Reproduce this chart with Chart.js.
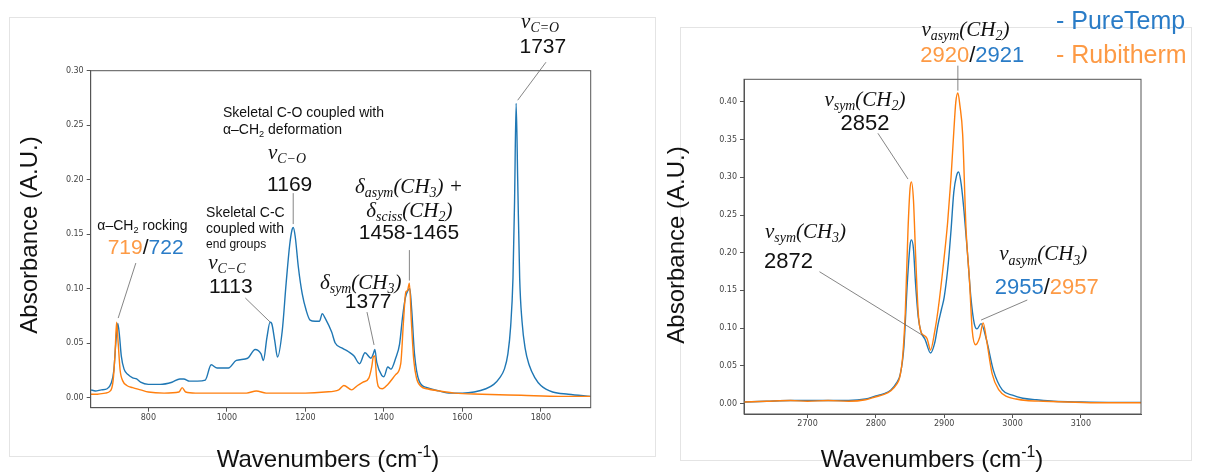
<!DOCTYPE html>
<html>
<head>
<meta charset="utf-8">
<script src="https://cdn.jsdelivr.net/npm/chart.js@4.4.1/dist/chart.umd.min.js"></script>
<style>
  html, body { margin: 0; padding: 0; background: #fff; }
  #wrap { position: relative; width: 1205px; height: 472px; overflow: hidden; }
  canvas { position: absolute; top: 0; }
  #left { left: 0; }
  #right { left: 660px; }
</style>
</head>
<body>
<div id="wrap">
  <canvas id="left" width="660" height="472"></canvas>
  <canvas id="right" width="545" height="472"></canvas>
</div>
<script>
// --- fingerprint region (left panel) ---
const leftWavenumbersPure = [653, 665, 680, 695, 705, 712, 717, 722, 726, 731, 738, 748, 760, 770, 780, 800, 830, 860, 880, 890, 905, 925, 945, 960, 975, 990, 1004, 1024, 1053, 1072, 1087, 1093, 1102, 1110, 1114, 1122, 1129, 1141, 1151, 1160, 1166, 1169, 1174, 1182, 1192, 1202, 1212, 1225, 1236, 1243, 1250, 1267, 1276, 1295, 1310, 1324, 1338, 1352, 1367, 1373, 1377, 1382, 1395, 1400, 1410, 1418, 1430, 1440, 1448, 1455, 1461, 1466, 1471, 1478, 1490, 1510, 1540, 1570, 1600, 1630, 1660, 1680, 1695, 1707, 1716, 1723, 1729, 1733, 1737, 1741, 1746, 1752, 1760, 1770, 1785, 1800, 1830, 1870, 1927];
const pureTempLeft = [0.007, 0.006, 0.007, 0.008, 0.013, 0.025, 0.05, 0.068, 0.058, 0.038, 0.026, 0.021, 0.018, 0.017, 0.014, 0.012, 0.012, 0.014, 0.017, 0.017, 0.015, 0.015, 0.016, 0.03, 0.027, 0.027, 0.027, 0.034, 0.036, 0.044, 0.04, 0.034, 0.055, 0.069, 0.068, 0.052, 0.037, 0.061, 0.105, 0.14, 0.154, 0.156, 0.148, 0.12, 0.095, 0.08, 0.071, 0.07, 0.07, 0.077, 0.073, 0.06, 0.05, 0.045, 0.042, 0.038, 0.031, 0.041, 0.036, 0.04, 0.044, 0.032, 0.02, 0.019, 0.028, 0.026, 0.036, 0.049, 0.075, 0.092, 0.098, 0.1, 0.08, 0.04, 0.015, 0.009, 0.006, 0.004, 0.004, 0.005, 0.008, 0.012, 0.018, 0.026, 0.04, 0.065, 0.11, 0.18, 0.27, 0.2, 0.11, 0.07, 0.045, 0.03, 0.018, 0.011, 0.005, 0.003, 0.001];

const leftWavenumbersRubi = [653, 670, 690, 703, 710, 715, 719, 723, 728, 735, 745, 760, 780, 800, 840, 878, 886, 895, 920, 1000, 1050, 1075, 1100, 1150, 1200, 1250, 1285, 1298, 1318, 1333, 1347, 1362, 1369, 1373, 1377, 1381, 1386, 1396, 1410, 1430, 1443, 1450, 1456, 1460, 1465, 1470, 1476, 1483, 1495, 1510, 1540, 1580, 1650, 1750, 1850, 1927];
const rubithermLeft = [0.003, 0.003, 0.004, 0.006, 0.015, 0.04, 0.069, 0.05, 0.025, 0.015, 0.011, 0.009, 0.007, 0.005, 0.004, 0.005, 0.009, 0.005, 0.004, 0.004, 0.004, 0.006, 0.004, 0.004, 0.004, 0.005, 0.007, 0.011, 0.007, 0.011, 0.014, 0.018, 0.028, 0.037, 0.038, 0.02, 0.01, 0.008, 0.012, 0.021, 0.031, 0.07, 0.097, 0.098, 0.105, 0.07, 0.035, 0.018, 0.01, 0.008, 0.006, 0.004, 0.003, 0.002, 0.001, 0.001];

const leftXTicks = [800, 1000, 1200, 1400, 1600, 1800];
const leftYTicks = [0, 0.05, 0.10, 0.15, 0.20, 0.25, 0.30];

// --- C-H stretching region (right panel) ---
const rightWavenumbersPure = [2607, 2640, 2675, 2700, 2730, 2760, 2785, 2800, 2812, 2822, 2830, 2836, 2841, 2846, 2850, 2852, 2855, 2858, 2862, 2866, 2872, 2880, 2886, 2891, 2896, 2900, 2906, 2910, 2914, 2918, 2921, 2925, 2929, 2934, 2939, 2944, 2948, 2954, 2962, 2972, 2985, 3000, 3015, 3035, 3060, 3100, 3140, 3188];
const pureTempRight = [0.002, 0.003, 0.004, 0.004, 0.004, 0.004, 0.006, 0.01, 0.013, 0.018, 0.027, 0.04, 0.075, 0.16, 0.21, 0.217, 0.205, 0.16, 0.115, 0.095, 0.085, 0.067, 0.08, 0.105, 0.125, 0.141, 0.186, 0.23, 0.28, 0.302, 0.307, 0.29, 0.255, 0.2, 0.141, 0.106, 0.099, 0.106, 0.084, 0.044, 0.018, 0.011, 0.007, 0.005, 0.003, 0.002, 0.0015, 0.0015];

const rightWavenumbersRubi = [2607, 2640, 2675, 2700, 2730, 2760, 2785, 2800, 2812, 2822, 2830, 2835, 2839, 2843, 2847, 2850, 2852, 2855, 2858, 2862, 2866, 2871, 2875, 2880, 2886, 2891, 2899, 2905, 2910, 2914, 2917, 2920, 2923, 2927, 2932, 2937, 2941, 2946, 2952, 2957, 2962, 2970, 2980, 2992, 3005, 3020, 3045, 3080, 3130, 3188];
const rubithermRight = [0.002, 0.003, 0.004, 0.003, 0.004, 0.003, 0.005, 0.009, 0.012, 0.017, 0.025, 0.035, 0.06, 0.12, 0.23, 0.285, 0.294, 0.27, 0.2, 0.12, 0.095, 0.09, 0.086, 0.071, 0.095, 0.124, 0.186, 0.24, 0.3, 0.36, 0.4, 0.412, 0.395, 0.357, 0.23, 0.163, 0.097, 0.078, 0.088, 0.107, 0.084, 0.04, 0.018, 0.009, 0.006, 0.004, 0.003, 0.002, 0.001, 0.001];

const rightXTicks = [2700, 2800, 2900, 3000, 3100];
const rightYTicks = [0, 0.05, 0.10, 0.15, 0.20, 0.25, 0.30, 0.35, 0.40];

const BLUE = '#1f77b4';
const ORANGE = '#ff7f0e';
const BLUE_TXT = '#2a7cc7';
const ORANGE_TXT = '#fd9a45';

const SANS = '"Liberation Sans", Arial, sans-serif';
const MATH = '"Liberation Serif", "DejaVu Serif", serif';

// peak labels, in data units: [text, kind, colour]
// kinds: s = sans, sb = sans subscript, sup = superscript, m = math italic, mb = math subscript
const leftNotes = [
  { x: 1798, y: 0.3445, size: 21, parts: [['ν', 'm'], ['C=O', 'mb']] },
  { x: 1805, y: 0.3216, size: 21, parts: [['1737', 's']] },
  { x: 990, y: 0.261, size: 14, align: 'left', parts: [['Skeletal C-O coupled with', 's']] },
  { x: 990, y: 0.2454, size: 14, align: 'left', parts: [['α–CH', 's'], ['2', 'sb'], [' deformation', 's']] },
  { x: 1153, y: 0.2243, size: 21, parts: [['ν', 'm'], ['C−O', 'mb']] },
  { x: 1160, y: 0.1945, size: 21, parts: [['1169', 's']] },
  { x: 1464, y: 0.1927, size: 21, parts: [['δ', 'm'], ['asym', 'mb'], ['(CH', 'm'], ['3', 'mb'], [') +', 'm']] },
  { x: 1465, y: 0.1706, size: 21, parts: [['δ', 'm'], ['sciss', 'mb'], ['(CH', 'm'], ['2', 'mb'], [')', 'm']] },
  { x: 1464, y: 0.1509, size: 21, parts: [['1458-1465', 's']] },
  { x: 670, y: 0.1573, size: 14, align: 'left', parts: [['α–CH', 's'], ['2', 'sb'], [' rocking', 's']] },
  { x: 793, y: 0.1372, size: 21, parts: [['719', 's', ORANGE_TXT], ['/', 's'], ['722', 's', BLUE_TXT]] },
  { x: 947, y: 0.1693, size: 14, align: 'left', parts: [['Skeletal C-C', 's']] },
  { x: 947, y: 0.1541, size: 14, align: 'left', parts: [['coupled with', 's']] },
  { x: 947, y: 0.1399, size: 12, align: 'left', parts: [['end groups', 's']] },
  { x: 1000, y: 0.1234, size: 21, parts: [['ν', 'm'], ['C−C', 'mb']] },
  { x: 1010, y: 0.1014, size: 21, parts: [['1113', 's']] },
  { x: 1341, y: 0.105, size: 21, parts: [['δ', 'm'], ['sym', 'mb'], ['(CH', 'm'], ['3', 'mb'], [')', 'm']] },
  { x: 1360, y: 0.0876, size: 21, parts: [['1377', 's']] }
];
const leftLeaders = [
  [1813, 0.3078, 1741, 0.2729],
  [1169, 0.1876, 1169, 0.1592],
  [1465, 0.1353, 1465, 0.1073],
  [768, 0.1234, 723, 0.0729],
  [1047, 0.0913, 1110, 0.0693],
  [1357, 0.0784, 1375, 0.0482]
];

const rightNotes = [
  { x: 2931, y: 0.495, size: 21, parts: [['ν', 'm'], ['asym', 'mb'], ['(CH', 'm'], ['2', 'mb'], [')', 'm']] },
  { x: 2941, y: 0.4614, size: 22, parts: [['2920', 's', ORANGE_TXT], ['/', 's'], ['2921', 's', BLUE_TXT]] },
  { x: 2784, y: 0.4017, size: 21, parts: [['ν', 'm'], ['sym', 'mb'], ['(CH', 'm'], ['2', 'mb'], [')', 'm']] },
  { x: 2784, y: 0.3707, size: 22, parts: [['2852', 's']] },
  { x: 2697, y: 0.227, size: 21, parts: [['ν', 'm'], ['sym', 'mb'], ['(CH', 'm'], ['3', 'mb'], [')', 'm']] },
  { x: 2672, y: 0.188, size: 22, parts: [['2872', 's']] },
  { x: 3045, y: 0.197, size: 21, parts: [['ν', 'm'], ['asym', 'mb'], ['(CH', 'm'], ['3', 'mb'], [')', 'm']] },
  { x: 3050, y: 0.1528, size: 22, parts: [['2955', 's', BLUE_TXT], ['/', 's'], ['2957', 's', ORANGE_TXT]] }
];
const rightLeaders = [
  [2920, 0.4481, 2920, 0.415],
  [2803, 0.3584, 2847, 0.2977],
  [2717.5, 0.1748, 2870, 0.0895],
  [3021.6, 0.1373, 2954, 0.1107]
];

function partFont(kind, size) {
  const small = kind === 'mb' || kind === 'sb' || kind === 'sup';
  const sz = (small ? size * 0.66 : size).toFixed(1) + 'px ';
  return kind[0] === 'm' ? 'italic ' + sz + MATH : sz + SANS;
}

function drawRich(ctx, x, y, parts, size, align) {
  ctx.textBaseline = 'middle';
  ctx.textAlign = 'left';
  let w = 0;
  parts.forEach(p => { ctx.font = partFont(p[1], size); w += ctx.measureText(p[0]).width; });
  let cx = align === 'left' ? x : x - w / 2;
  parts.forEach(p => {
    ctx.font = partFont(p[1], size);
    let dy = 0;
    if (p[1] === 'mb' || p[1] === 'sb') dy = size * 0.28;
    if (p[1] === 'sup') dy = -size * 0.32;
    ctx.fillStyle = p[2] || '#111';
    ctx.fillText(p[0], cx, y + dy);
    cx += ctx.measureText(p[0]).width;
  });
}

function decor(o) {
  return {
    id: 'decor',
    beforeDraw(chart) {
      const ctx = chart.ctx;
      const f = o.frame;
      ctx.save();
      ctx.fillStyle = '#fff';
      ctx.fillRect(0, 0, chart.width, chart.height);
      ctx.strokeStyle = '#e4e4e4';
      ctx.lineWidth = 1;
      ctx.strokeRect(f[0] + 0.5, f[1] + 0.5, f[2] - f[0], f[3] - f[1]);
      ctx.restore();
    },
    afterDraw(chart) {
      const ctx = chart.ctx;
      const xs = chart.scales.x, ys = chart.scales.y, a = chart.chartArea;
      ctx.save();
      // axes box
      ctx.strokeStyle = '#555';
      ctx.lineWidth = 1;
      ctx.strokeRect(a.left, a.top, a.right - a.left, a.bottom - a.top);
      // leader lines
      ctx.strokeStyle = '#666';
      ctx.lineWidth = 0.8;
      o.leaders.forEach(l => {
        ctx.beginPath();
        ctx.moveTo(xs.getPixelForValue(l[0]), ys.getPixelForValue(l[1]));
        ctx.lineTo(xs.getPixelForValue(l[2]), ys.getPixelForValue(l[3]));
        ctx.stroke();
      });
      o.notes.forEach(n => drawRich(ctx, xs.getPixelForValue(n.x), ys.getPixelForValue(n.y), n.parts, n.size, n.align));
      // axis titles
      drawRich(ctx, o.xTitle[0], o.xTitle[1], [['Wavenumbers (cm', 's'], ['-1', 'sup'], [')', 's']], 24, 'center');
      ctx.translate(o.yTitle[0], o.yTitle[1]);
      ctx.rotate(-Math.PI / 2);
      drawRich(ctx, 0, 0, [['Absorbance (A.U.)', 's']], 24, 'center');
      ctx.restore();
      if (o.legend) {
        ctx.save();
        o.legend.forEach(l => drawRich(ctx, l.x, l.y, [[l.text, 's', l.color]], 25, 'left'));
        ctx.restore();
      }
    }
  };
}

function scalesFor(xmin, xmax, ymin, ymax, xTicks, yTicks) {
  const tickFont = { family: '"DejaVu Sans", sans-serif', size: 8 };
  return {
    x: {
      type: 'linear', min: xmin, max: xmax,
      afterBuildTicks: s => { s.ticks = xTicks.map(v => ({ value: v })); },
      afterFit: s => { s.height = 20; },
      grid: { drawOnChartArea: false, tickLength: 4, color: '#555' },
      border: { color: '#555' },
      ticks: { font: tickFont, color: '#444', padding: 1, maxRotation: 0, autoSkip: false, callback: v => String(v) }
    },
    y: {
      type: 'linear', min: ymin, max: ymax,
      afterBuildTicks: s => { s.ticks = yTicks.map(v => ({ value: v })); },
      afterFit: s => { s.width = 40; },
      grid: { drawOnChartArea: false, tickLength: 4, color: '#555' },
      border: { color: '#555' },
      ticks: { font: tickFont, color: '#444', padding: 3, autoSkip: false, callback: v => v.toFixed(2) }
    }
  };
}

function series(label, xs, ys, color, order) {
  return {
    label: label,
    data: xs.map((x, i) => ({ x: x, y: ys[i] })),
    borderColor: color,
    borderWidth: 1.4,
    pointRadius: 0,
    fill: false,
    cubicInterpolationMode: 'monotone',
    order: order
  };
}

function baseOptions(padding, scales) {
  return {
    responsive: false,
    animation: false,
    devicePixelRatio: 1,
    layout: { padding: padding },
    plugins: { legend: { display: false }, tooltip: { enabled: false } },
    scales: scales
  };
}

new Chart(document.getElementById('left'), {
  type: 'line',
  data: {
    datasets: [
      series('Rubitherm', leftWavenumbersRubi, rubithermLeft, ORANGE, 1),
      series('PureTemp', leftWavenumbersPure, pureTempLeft, BLUE, 2)
    ]
  },
  options: baseOptions({ left: 50.7, top: 70.7, right: 69.3, bottom: 44.3 },
    scalesFor(653, 1927, -0.0094, 0.30, leftXTicks, leftYTicks)),
  plugins: [decor({
    frame: [9, 17, 655, 456],
    notes: leftNotes,
    leaders: leftLeaders,
    xTitle: [328, 460],
    yTitle: [30, 235]
  })]
});

new Chart(document.getElementById('right'), {
  type: 'line',
  data: {
    datasets: [
      series('Rubitherm', rightWavenumbersRubi, rubithermRight, ORANGE, 1),
      series('PureTemp', rightWavenumbersPure, pureTempRight, BLUE, 2)
    ]
  },
  options: baseOptions({ left: 44, top: 79.3, right: 64, bottom: 38 },
    scalesFor(2607, 3188, -0.0139, 0.43, rightXTicks, rightYTicks)),
  plugins: [decor({
    frame: [20, 27, 531, 460],
    notes: rightNotes,
    leaders: rightLeaders,
    xTitle: [272, 460],
    yTitle: [17, 245],
    legend: [
      { x: 396, y: 22, text: '- PureTemp', color: BLUE_TXT },
      { x: 396, y: 56, text: '- Rubitherm', color: ORANGE_TXT }
    ]
  })]
});
</script>
</body>
</html>
